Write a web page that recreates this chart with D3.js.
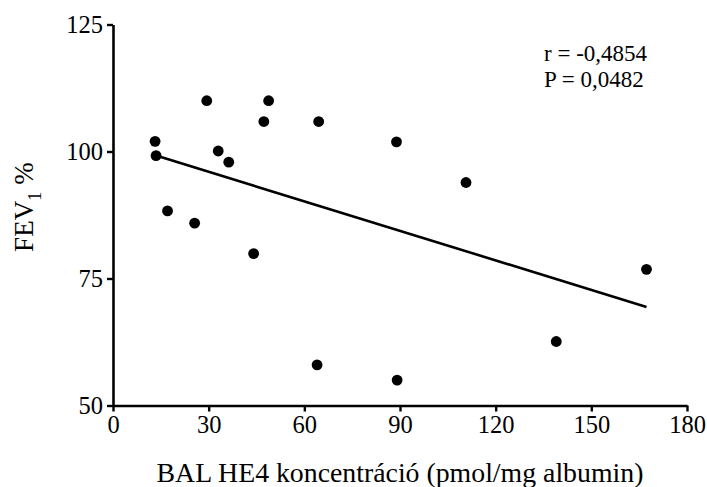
<!DOCTYPE html>
<html>
<head>
<meta charset="utf-8">
<script src="https://cdn.jsdelivr.net/npm/d3@7"></script>
<style>
  html, body { margin: 0; padding: 0; background: #fff; }
  svg { display: block; }
  text { font-family: "Liberation Serif", "Times New Roman", serif; fill: #000; }
</style>
</head>
<body>
<svg id="chart" width="707" height="487"></svg>
<script>
// Data
const heConc = [13.2, 13.5, 29.4, 48.8, 47.3, 64.5, 33.0, 36.3, 17.1, 25.6, 44.1, 64.0, 88.9, 110.7, 89.1, 139.0, 167.3];
const fev1   = [102.0, 99.2, 110.0, 110.0, 105.9, 105.9, 100.1, 97.9, 88.3, 85.9, 79.9, 58.0, 101.9, 93.9, 55.0, 62.6, 76.8];
const fitLineX = [13.5, 167.3];
const fitLineY = [99.2, 69.4];
const xTicks = [0, 30, 60, 90, 120, 150, 180];
const yTicks = [50, 75, 100, 125];
const statsText = ["r = -0,4854", "P = 0,0482"];
const xTitle = "BAL HE4 koncentráció (pmol/mg albumin)";

const svg = d3.select("#chart");
const x = d3.scaleLinear().domain([0, 180]).range([113, 687]);
const y = d3.scaleLinear().domain([50, 125]).range([405.5, 24.5]);

// Axes
const xAxis = svg.append("g").attr("transform", `translate(0,${y(50)})`)
  .call(d3.axisBottom(x).tickValues(xTicks).tickSize(6).tickSizeOuter(0).tickPadding(4));
const yAxis = svg.append("g").attr("transform", `translate(${x(0)},0)`)
  .call(d3.axisLeft(y).tickValues(yTicks).tickSize(6).tickSizeOuter(0).tickPadding(4));

[xAxis, yAxis].forEach(g => {
  g.selectAll(".domain").attr("stroke", "#000").attr("stroke-width", 2.6);
  g.selectAll(".tick line").attr("stroke", "#000").attr("stroke-width", 2.4);
  g.selectAll(".tick text").style("font-family", '"Liberation Serif", serif').style("font-size", "24.5px").attr("fill", "#000");
});
xAxis.selectAll(".tick text").attr("dy", "0.71em");
yAxis.selectAll(".tick text").attr("dy", "0.33em");

// Regression line
const lineData = fitLineX.map((v, i) => [v, fitLineY[i]]);
svg.append("path")
  .datum(lineData)
  .attr("d", d3.line().x(d => x(d[0])).y(d => y(d[1])))
  .attr("stroke", "#000").attr("stroke-width", 2.6).attr("fill", "none");

// Points
svg.append("g").selectAll("circle")
  .data(heConc.map((v, i) => [v, fev1[i]]))
  .join("circle")
  .attr("cx", d => x(d[0])).attr("cy", d => y(d[1]))
  .attr("r", 5.4).attr("fill", "#000");

// Stats annotation
svg.append("g").selectAll("text")
  .data(statsText)
  .join("text")
  .attr("x", 544).attr("y", (d, i) => 60.5 + i * 26.5)
  .style("font-size", "23px")
  .text(d => d);

// X title
svg.append("text")
  .attr("x", 400).attr("y", 482)
  .attr("text-anchor", "middle")
  .style("font-size", "27.8px")
  .text(xTitle);

// Y title with subscript
const yt = svg.append("text")
  .attr("transform", `translate(33,${207}) rotate(-90)`)
  .attr("text-anchor", "middle")
  .style("font-size", "27px");
yt.append("tspan").text("FEV");
yt.append("tspan").attr("dy", 8).style("font-size", "19px").text("1");
yt.append("tspan").attr("dy", -8).text(" %");
</script>
</body>
</html>
